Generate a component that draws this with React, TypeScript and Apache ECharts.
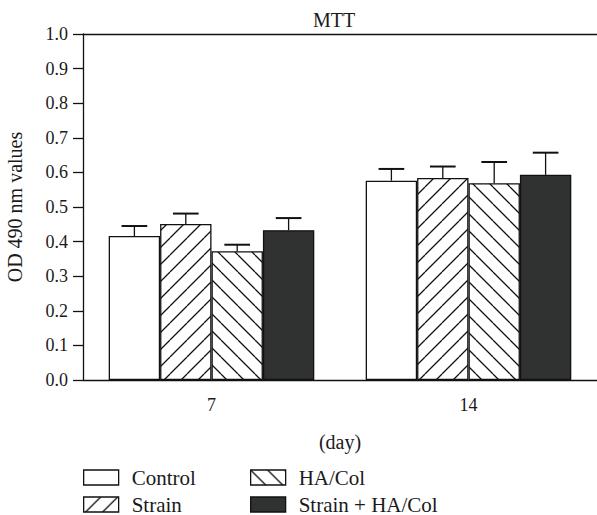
import React, { useEffect, useRef } from "react";
import * as echarts from "echarts";

const categories = ["7", "14"];
const seriesNames = ["Control", "Strain", "HA/Col", "Strain + HA/Col"];
const controlMean = [0.416, 0.576];
const controlErr = [0.029, 0.034];
const strainMean = [0.451, 0.584];
const strainErr = [0.030, 0.033];
const haColMean = [0.372, 0.569];
const haColErr = [0.019, 0.061];
const strainHaColMean = [0.433, 0.593];
const strainHaColErr = [0.035, 0.064];
const yTicks = [0, 0.1, 0.2, 0.3, 0.4, 0.5, 0.6, 0.7, 0.8, 0.9, 1.0];

const FONT = "'Liberation Serif', 'DejaVu Serif', serif";
const INK = "#1a1a1a";

function hatch(dir: "/" | "\\") {
  const s = 17;
  const c = document.createElement("canvas");
  c.width = s;
  c.height = s;
  const ctx = c.getContext("2d")!;
  ctx.fillStyle = "#ffffff";
  ctx.fillRect(0, 0, s, s);
  ctx.strokeStyle = "#111111";
  ctx.lineWidth = 1.3;
  ctx.beginPath();
  for (const k of [-s, 0, s]) {
    if (dir === "/") {
      ctx.moveTo(k, s);
      ctx.lineTo(k + s, 0);
    } else {
      ctx.moveTo(k, 0);
      ctx.lineTo(k + s, s);
    }
  }
  ctx.stroke();
  return c;
}

export default function App() {
  const ref = useRef<HTMLDivElement>(null);
  useEffect(() => {
    if (!ref.current) return;
    const chart = echarts.init(ref.current, null, { renderer: "svg" });
    const means = [controlMean, strainMean, haColMean, strainHaColMean];
    const errs = [controlErr, strainErr, haColErr, strainHaColErr];
    const fills: any[] = [
      "#ffffff",
      { image: hatch("/"), repeat: "repeat" },
      { image: hatch("\\"), repeat: "repeat" },
      "#303231",
    ];
    const errData: number[][] = [];
    means.forEach((m, s) =>
      m.forEach((v, c) => errData.push([c, s, v, errs[s][c]]))
    );
    const barSeries = seriesNames.map((name, i) => ({
      name,
      type: "bar",
      data: means[i],
      barGap: "0%",
      barCategoryGap: "20%",
      itemStyle: { color: fills[i], borderColor: "#111", borderWidth: 1.3 },
      z: 2,
    }));
    const legendBase = {
      orient: "vertical",
      top: 467,
      padding: 0,
      icon: "rect",
      itemWidth: 35,
      itemHeight: 15,
      itemGap: 6,
      itemStyle: { borderColor: "#111", borderWidth: 1.3 },
      textStyle: { fontFamily: FONT, fontSize: 21, color: INK, lineHeight: 20, padding: [0, 0, 0, 8] },
    };
    const option: any = {
      animation: false,
      title: {
        text: "MTT",
        left: 308,
        top: 5,
        textStyle: { fontFamily: FONT, fontSize: 20, fontWeight: "normal", color: INK },
      },
      grid: { left: 83, right: 0, top: 34, bottom: 135, outerBoundsMode: "none", containLabel: false },
      legend: [
        { ...legendBase, data: [seriesNames[0], seriesNames[1]], left: 83 },
        { ...legendBase, data: [seriesNames[2], seriesNames[3]], left: 250 },
      ],
      xAxis: [
        {
          type: "category",
          data: categories,
          name: "(day)",
          nameLocation: "middle",
          nameGap: 52,
          nameTextStyle: { fontFamily: FONT, fontSize: 20, color: INK },
          axisLine: { lineStyle: { color: "#111", width: 1.3 } },
          axisTick: { alignWithLabel: true, length: 6, lineStyle: { color: "#111", width: 1.3 } },
          axisLabel: { fontFamily: FONT, fontSize: 18, color: INK, margin: 16 },
        },
        {
          type: "category",
          data: categories,
          position: "top",
          axisLine: { lineStyle: { color: "#111", width: 1.3 } },
          axisTick: { show: false },
          axisLabel: { show: false },
        },
      ],
      yAxis: {
        type: "value",
        min: 0,
        max: 1,
        interval: 0.1,
        name: "OD 490 nm values",
        nameLocation: "middle",
        nameGap: 58,
        nameTextStyle: { fontFamily: FONT, fontSize: 20, color: INK },
        axisLine: { show: true, lineStyle: { color: "#111", width: 1.3 } },
        axisTick: { show: true, length: 10, lineStyle: { color: "#111", width: 1.3 } },
        splitLine: { show: false },
        axisLabel: {
          fontFamily: FONT,
          fontSize: 18,
          color: INK,
          margin: 15,
          formatter: (v: number) => {
            const t = yTicks.find((x) => Math.abs(x - v) < 1e-6);
            return (t ?? v).toFixed(1);
          },
        },
      },
      series: [
        ...barSeries,
        {
          type: "custom",
          name: "err",
          data: errData,
          encode: { x: 0, y: 2 },
          z: 5,
          renderItem: (params: any, api: any) => {
            const cat = api.value(0);
            const s = api.value(1);
            const mean = api.value(2);
            const err = api.value(3);
            const band = api.size([1, 0])[0];
            const bw = (band * 0.8) / 4;
            const base = api.coord([cat, mean]);
            const top = api.coord([cat, mean + err]);
            const x = base[0] + (s - 1.5) * bw;
            const half = bw / 4;
            return {
              type: "group",
              children: [
                {
                  type: "line",
                  shape: { x1: x, y1: base[1], x2: x, y2: top[1] },
                  style: { stroke: "#111", lineWidth: 1.3 },
                },
                {
                  type: "line",
                  shape: { x1: x - half, y1: top[1], x2: x + half, y2: top[1] },
                  style: { stroke: "#111", lineWidth: 2 },
                },
              ],
            };
          },
        },
      ],
    };
    chart.setOption(option);
    return () => chart.dispose();
  }, []);
  return <div ref={ref} style={{ width: 597, height: 515, position: "absolute", left: 0, top: 0 }} />;
}
